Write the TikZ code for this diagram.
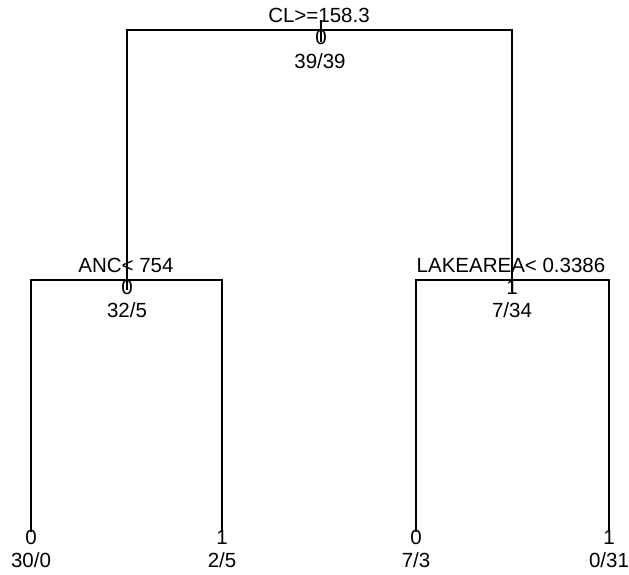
\documentclass[tikz,border=0pt]{standalone}
\usepackage{fontspec}
\setmainfont{Liberation Sans}
\begin{document}
\begin{tikzpicture}[x=1pt,y=-1pt,
  lbl/.style={inner sep=0pt,anchor=base,font=\fontsize{20.5}{22}\selectfont},
  edge/.style={line width=1.5pt,line cap=butt}]
\useasboundingbox (0,0) rectangle (629,575);
% tree coordinates
\coordinate (rt) at (321,20);
\coordinate (rb) at (321,42);
\coordinate (Lt) at (127,30);
\coordinate (Rt) at (512,30);
\coordinate (Lb) at (127,290);
\coordinate (Rb) at (512,292);
\coordinate (LLt) at (31,280);
\coordinate (LRt) at (222,280);
\coordinate (RLt) at (416,280);
\coordinate (RRt) at (609,280);
\coordinate (LLb) at (31,532);
\coordinate (LRb) at (222,532);
\coordinate (RLb) at (416,532);
\coordinate (RRb) at (609,532);
% connectors
\draw[edge] (Lb) -- (Lt) -- (Rt) -- (Rb);
\draw[edge] (rt) -- (rb);
\draw[edge] (LLb) -- (LLt) -- (LRt) -- (LRb);
\draw[edge] (RLb) -- (RLt) -- (RRt) -- (RRb);
% labels
\node[lbl] (s1) at (319,23) {CL>=158.3};
\node[lbl] (c1) at (321,45) {0};
\node[lbl] (n1) at (320,69) {39/39};
\node[lbl] (s2) at (126,272) {ANC< 754};
\node[lbl] (c2) at (127,294) {0};
\node[lbl] (n2) at (127,317) {32/5};
\node[lbl] (s3) at (511,272) {LAKEAREA< 0.3386};
\node[lbl] (c3) at (512,294) {1};
\node[lbl] (n3) at (512,317) {7/34};
\node[lbl] (c4) at (31,544) {0};
\node[lbl] (n4) at (31,567) {30/0};
\node[lbl] (c5) at (222,544) {1};
\node[lbl] (n5) at (222,567) {2/5};
\node[lbl] (c6) at (416,544) {0};
\node[lbl] (n6) at (416,567) {7/3};
\node[lbl] (c7) at (609,544) {1};
\node[lbl] (n7) at (609,567) {0/31};
\end{tikzpicture}
\end{document}
